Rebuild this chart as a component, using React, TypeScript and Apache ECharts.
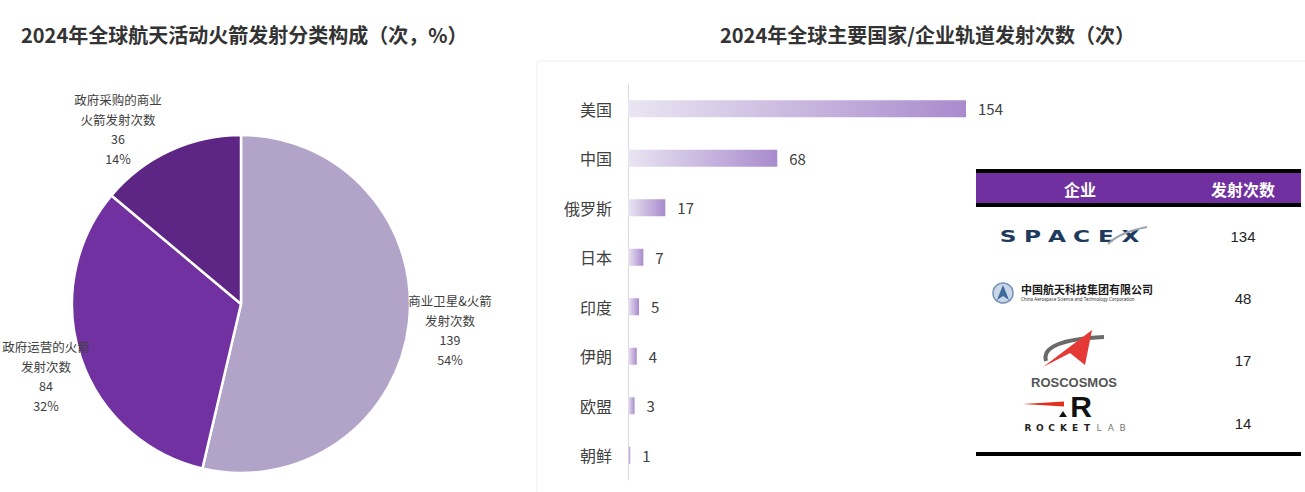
import React, { useEffect, useRef } from "react";
import * as echarts from "echarts";

const pieNames = ["商业卫星&火箭\n发射次数", "政府运营的火箭\n发射次数", "政府采购的商业\n火箭发射次数"];
const pieValues = [139, 84, 36];
const pieColors = ["#B2A4C9", "#7131A1", "#5D2685"];
const pieLabelPos = [
  [450, 330],
  [46, 376],
  [118, 129],
];

const countries = ["美国", "中国", "俄罗斯", "日本", "印度", "伊朗", "欧盟", "朝鲜"];
const countryLaunches = [154, 68, 17, 7, 5, 4, 3, 1];

const companies = ["SpaceX", "中国航天科技集团有限公司", "ROSCOSMOS", "Rocket Lab"];
const companyLaunches = [134, 48, 17, 14];

const TABLE_X0 = 976;
const TABLE_X1 = 1301;
const ROW_Y = [236, 298, 360, 423];

function spaced(str: string, x0: number, step: number, y: number, style: any, scaleX = 1) {
  return str.split("").map((ch, i) => ({
    type: "text",
    x: x0 + i * step,
    y,
    scaleX,
    style: { text: ch, align: "center", verticalAlign: "middle", ...style },
  }));
}

function logos(): any[] {
  const els: any[] = [];
  // SpaceX
  els.push(
    ...spaced(
      "SPACEX",
      1008,
      24.5,
      237,
      {
        font: "bold 15px 'DejaVu Sans'",
        fill: "#1E3A5C",
      },
      1.55
    )
  );
  els.push({
    type: "bezierCurve",
    shape: { x1: 1108, y1: 244, cpx1: 1120, cpy1: 232, x2: 1147, y2: 227 },
    style: { stroke: "#9AA3AD", lineWidth: 2, fill: null },
  });
  // CASC
  els.push({
    type: "circle",
    shape: { cx: 1003, cy: 293, r: 10 },
    style: { fill: "#C9D6E6", stroke: "#6F8FB5", lineWidth: 1.5 },
  });
  els.push({
    type: "polygon",
    shape: { points: [[1003, 285], [997, 300], [1003, 296], [1009, 300]] },
    style: { fill: "#3F6A9E" },
  });
  els.push({
    type: "text",
    x: 1021,
    y: 289,
    style: {
      text: companies[1],
      font: "bold 11px 'Noto Sans CJK SC'",
      fill: "#1A1A1A",
      verticalAlign: "middle",
    },
  });
  els.push({
    type: "text",
    x: 1021,
    y: 299,
    style: {
      text: "China Aerospace Science and Technology Corporation",
      font: "4.5px 'Noto Sans'",
      fill: "#333",
      verticalAlign: "middle",
    },
  });
  // Roscosmos
  els.push({
    type: "bezierCurve",
    shape: { x1: 1046, y1: 361, cpx1: 1040, cpy1: 340, x2: 1104, y2: 337 },
    style: { stroke: "#6A6A6A", lineWidth: 4, fill: null },
  });
  els.push({
    type: "polygon",
    shape: { points: [[1092, 330], [1043, 367], [1070, 353], [1085, 365]] },
    style: { fill: "#E53935" },
  });
  els.push({
    type: "text",
    x: 1074,
    y: 382,
    style: {
      text: companies[2],
      font: "bold 13px 'Liberation Sans'",
      fill: "#555",
      align: "center",
      verticalAlign: "middle",
    },
  });
  // Rocket Lab
  els.push({
    type: "polygon",
    shape: { points: [[1023, 404], [1064, 401.5], [1064, 406.5]] },
    style: { fill: "#E0301E" },
  });
  els.push({
    type: "text",
    x: 1081,
    y: 406,
    style: {
      text: "R",
      font: "bold 30px 'Liberation Sans'",
      fill: "#111",
      align: "center",
      verticalAlign: "middle",
    },
  });
  els.push({
    type: "polygon",
    shape: { points: [[1063, 411], [1059, 417], [1067, 417]] },
    style: { fill: "#111" },
  });
  els.push(
    ...spaced("ROCKET", 1028, 11.8, 428, {
      font: "bold 9px 'DejaVu Sans'",
      fill: "#222",
    })
  );
  els.push(
    ...spaced("LAB", 1099, 11.8, 428, {
      font: "9px 'DejaVu Sans'",
      fill: "#777",
    })
  );
  return els;
}

function tableGraphics(): any[] {
  const els: any[] = [];
  els.push({
    type: "rect",
    shape: { x: 537, y: 61, width: 780, height: 440 },
    style: { fill: "none", stroke: "#F0F0F0", lineWidth: 1 },
    z: -10,
  });
  els.push({
    type: "rect",
    shape: { x: TABLE_X0, y: 169, width: TABLE_X1 - TABLE_X0, height: 4 },
    style: { fill: "#000" },
  });
  els.push({
    type: "rect",
    shape: { x: TABLE_X0, y: 173, width: TABLE_X1 - TABLE_X0, height: 30 },
    style: { fill: "#7030A0" },
  });
  els.push({
    type: "rect",
    shape: { x: TABLE_X0, y: 203, width: TABLE_X1 - TABLE_X0, height: 4 },
    style: { fill: "#000" },
  });
  els.push({
    type: "text",
    x: 1080,
    y: 189,
    style: {
      text: "企业",
      font: "bold 16px 'Noto Sans CJK SC'",
      fill: "#fff",
      align: "center",
      verticalAlign: "middle",
    },
  });
  els.push({
    type: "text",
    x: 1243,
    y: 189,
    style: {
      text: "发射次数",
      font: "bold 16px 'Noto Sans CJK SC'",
      fill: "#fff",
      align: "center",
      verticalAlign: "middle",
    },
  });
  companyLaunches.forEach((v, i) => {
    els.push({
      type: "text",
      x: 1243,
      y: ROW_Y[i],
      style: {
        text: String(v),
        font: "15px 'Liberation Sans'",
        fill: "#222",
        align: "center",
        verticalAlign: "middle",
      },
    });
  });
  els.push({
    type: "rect",
    shape: { x: TABLE_X0, y: 452, width: TABLE_X1 - TABLE_X0, height: 4 },
    style: { fill: "#000" },
  });
  return els.concat(logos());
}

export default function App() {
  const ref = useRef<HTMLDivElement>(null);
  useEffect(() => {
    document.body.style.margin = "0";
    const chart = echarts.init(ref.current!, null, { renderer: "svg" });
    const textFont = "'Noto Sans CJK SC', 'Microsoft YaHei', sans-serif";
    chart.setOption({
      animation: false,
      backgroundColor: "#fff",
      textStyle: { fontFamily: textFont },
      title: [
        {
          text: "2024年全球航天活动火箭发射分类构成（次，%）",
          left: 16,
          top: 19,
          textStyle: { fontSize: 20, fontWeight: "bold", color: "#333", fontFamily: textFont },
        },
        {
          text: "2024年全球主要国家/企业轨道发射次数（次）",
          left: 715,
          top: 19,
          textStyle: { fontSize: 20, fontWeight: "bold", color: "#333", fontFamily: textFont },
        },
      ],
      grid: { left: 628, top: 84, width: 439, height: 396 },
      xAxis: {
        type: "value",
        min: 0,
        max: 200,
        show: false,
      },
      yAxis: {
        type: "category",
        inverse: true,
        data: countries,
        axisLine: { show: true, lineStyle: { color: "#D9D9D9", width: 1 } },
        axisTick: { show: false },
        axisLabel: { fontSize: 16, color: "#404040", margin: 16 },
      },
      series: [
        {
          type: "pie",
          center: [241, 304],
          radius: [0, 169],
          startAngle: 90,
          clockwise: true,
          percentPrecision: 0,
          itemStyle: { borderColor: "#fff", borderWidth: 2.5 },
          data: pieValues.map((v, i) => ({
            name: pieNames[i],
            value: v,
            itemStyle: { color: pieColors[i] },
          })),
          label: {
            show: true,
            position: "inside",
            formatter: "{b}\n{c}\n{d}%",
            fontSize: 12.5,
            lineHeight: 19.5,
            color: "#404040",
            align: "center",
          },
          labelLine: { show: false },
          labelLayout: (p: any) => ({
            x: pieLabelPos[p.dataIndex][0],
            y: pieLabelPos[p.dataIndex][1],
            align: "center",
            verticalAlign: "middle",
          }),
        },
        {
          type: "bar",
          data: countryLaunches,
          barWidth: 17,
          itemStyle: {
            color: new echarts.graphic.LinearGradient(0, 0, 1, 0, [
              { offset: 0, color: "#EAE5F2" },
              { offset: 1, color: "#A98BCD" },
            ]),
          },
          label: {
            show: true,
            position: "right",
            distance: 12,
            fontSize: 15,
            color: "#404040",
          },
        },
      ],
      graphic: tableGraphics(),
    });
    return () => chart.dispose();
  }, []);
  return <div ref={ref} style={{ width: 1305, height: 492 }} />;
}
